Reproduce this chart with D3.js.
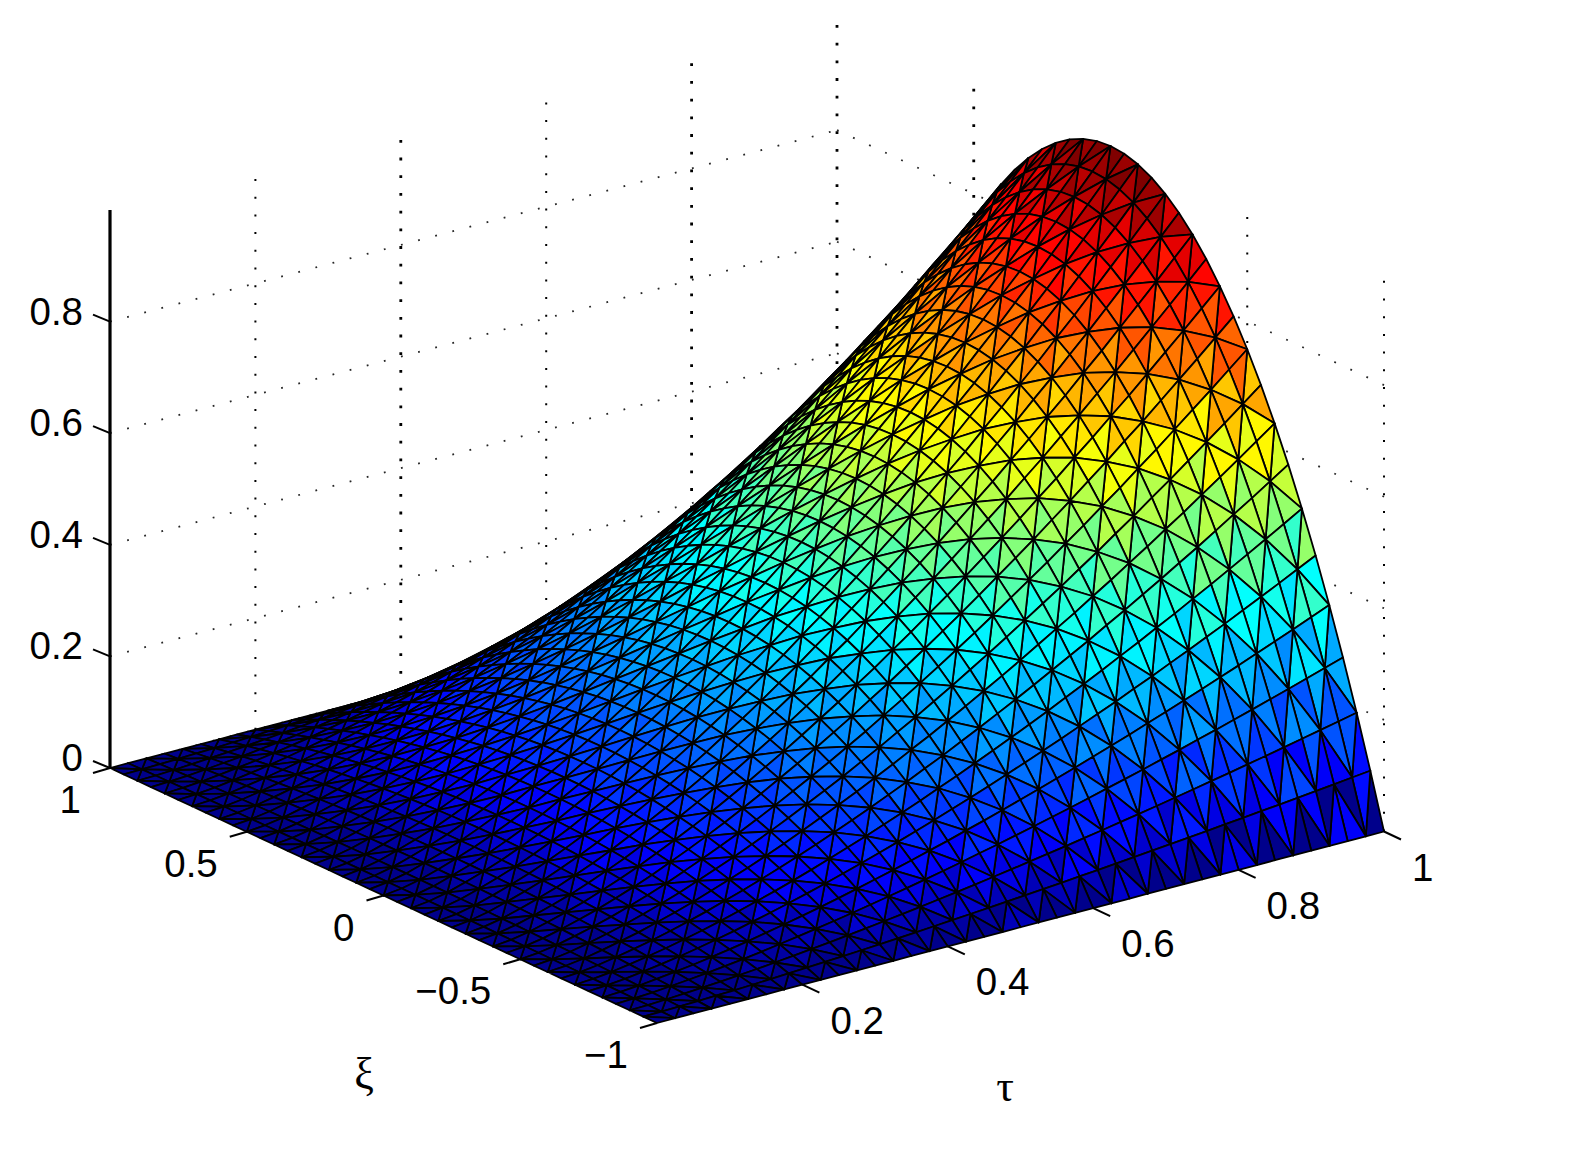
<!DOCTYPE html>
<html><head><meta charset="utf-8">
<style>html,body{margin:0;padding:0;background:#fff}svg{display:block}text{font-family:"Liberation Sans",Arial,sans-serif;fill:#000}</style>
<script src="https://cdnjs.cloudflare.com/ajax/libs/d3/7.8.5/d3.min.js"></script>
</head><body><svg id="c" width="1577" height="1164"></svg>
<script>
const tauValues=[0,.025,.05,.075,.1,.125,.15,.175,.2,.225,.25,.275,.3,.325,.35,.375,.4,.425,.45,.475,.5,.525,.55,.575,.6,.625,.65,.675,.7,.725,.75,.775,.8,.825,.85,.875,.9,.925,.95,.975,1];
const xiValues=[-1,-.95,-.9,-.85,-.8,-.75,-.7,-.65,-.6,-.55,-.5,-.45,-.4,-.35,-.3,-.25,-.2,-.15,-.1,-.05,0,.05,.1,.15,.2,.25,.3,.35,.4,.45,.5,.55,.6,.65,.7,.75,.8,.85,.9,.95,1];
const tauProfile=[0,.004,.011,.021,.032,.044,.058,.073,.089,.107,.125,.144,.164,.185,.207,.230,.253,.277,.302,.327,.354,.380,.408,.436,.465,.494,.524,.555,.586,.617,.650,.682,.716,.749,.784,.818,.854,.890,.926,.963,1];
const xiProfile=[0,.0975,.19,.2775,.36,.4375,.51,.5775,.64,.6975,.75,.7975,.84,.8775,.91,.9375,.96,.9775,.99,.9975,1,.9975,.99,.9775,.96,.9375,.91,.8775,.84,.7975,.75,.6975,.64,.5775,.51,.4375,.36,.2775,.19,.0975,0];
const zTicks=[0,.2,.4,.6,.8];
const zLabels=["0","0.2","0.4","0.6","0.8"];
const tauTicks=[.2,.4,.6,.8,1];
const tauLabels=["0.2","0.4","0.6","0.8","1"];
const xiTicks=[1,.5,0,-.5,-1];
const xiLabels=["1","0.5","0","\u22120.5","\u22121"];
const jetStops=["#000080","#0000ff","#00ffff","#ffff00","#ff0000","#800000"];
const jetDomain=[0,.09,.365,.61,.855,.99];

const svg=d3.select("#c");
const xTau=d3.scaleLinear().domain([0,1]).range([0,727]);
const yTau=d3.scaleLinear().domain([0,1]).range([0,-191.5]);
const xXi=d3.scaleLinear().domain([-1,1]).range([657,110]);
const yXi=d3.scaleLinear().domain([-1,1]).range([1023,768]);
const yZ=d3.scaleLinear().domain([0,1]).range([0,-558]);
const px=(t,k)=>xTau(t)+xXi(k);
const py=(t,k,z)=>yTau(t)+yXi(k)+yZ(z);
const ramp=d3.scaleLinear().domain(jetDomain).range(jetStops).interpolate(d3.interpolateRgb).clamp(true);
const color=d3.scaleQuantize().domain([0,1]).range(d3.range(64).map(i=>ramp((i+.5)/64)));

const grid=svg.append("g").attr("fill","none").attr("stroke","#000").attr("stroke-linecap","butt");
function dotted(a,b,w,o){grid.append("line").attr("x1",a[0]).attr("y1",a[1]).attr("x2",b[0]).attr("y2",b[1])
  .attr("stroke-width",w).attr("stroke-dasharray",w+" "+(17.7-w)).attr("opacity",o);}
const P=(t,k,z)=>[px(t,k),py(t,k,z)];
[.2,.4,.6,.8,1].forEach(t=>dotted(P(t,1,0),P(t,1,1),t==.4||t==.8||t==1?2.8:2,1));
[.5,0,-.5,-1].forEach(k=>dotted(P(1,k,0),P(1,k,1),k==.5?2.8:2,1));
zTicks.slice(1).forEach(z=>{dotted(P(0,1,z),P(1,1,z),1.8,.85);dotted(P(1,1,z),P(1,-1,z),1.8,.85);});
dotted(P(0,1,0),P(1,1,0),1.8,.85);dotted(P(1,1,0),P(1,-1,0),1.8,.85);

// surface, painted from the far corner to the near one
const n=tauValues.length,m=xiValues.length,tris=[];
const node=(i,j)=>({t:tauValues[i],k:xiValues[j],z:tauProfile[i]*xiProfile[j],i,j});
for(let i=n-2;i>=0;i--)for(let j=m-2;j>=0;j--){
  const a=node(i,j),b=node(i+1,j),c=node(i+1,j+1),d=node(i,j+1);
  const even=(i+j)%2==0;
  const pair=(j==0?!even:even)?[[a,b,c],[a,c,d]]:[[b,c,d],[b,d,a]];
  pair.forEach((v,q)=>tris.push({v,q}));
}
svg.append("g").selectAll("path").data(tris).join("path")
 .attr("d",d=>"M"+d.v.map(p=>[px(p.t,p.k).toFixed(2),py(p.t,p.k,p.z).toFixed(2)].join(",")).join("L")+"Z")
 .attr("fill",d=>{const s=d.v[(d.v[0].i*2+d.v[0].j+d.q)%3];return color(s.z);})
 .attr("stroke","#000").attr("stroke-width",1.8).attr("stroke-linejoin","round");

const ax=svg.append("g").attr("stroke","#000").attr("fill","none");
ax.append("line").attr("x1",px(0,1)).attr("y1",py(0,1,0)).attr("x2",px(0,1)).attr("y2",py(0,1,1)).attr("stroke-width",3.2);
const tk=(a,dx,dy)=>ax.append("line").attr("x1",a[0]).attr("y1",a[1]).attr("x2",a[0]+dx).attr("y2",a[1]+dy).attr("stroke-width",2);
zTicks.forEach(z=>tk(P(0,1,z),-17,-7));
xiTicks.forEach(k=>tk(P(0,k,0),-17,5));
tauTicks.forEach(t=>tk(P(t,-1,0),17,8));

const lab=svg.append("g").attr("font-size",38.5);
const text=(s,x,y,anchor="end")=>lab.append("text").attr("x",x).attr("y",y).attr("text-anchor",anchor).text(s);
zLabels.forEach((s,i)=>text(s,px(0,1)-27,py(0,1,zTicks[i])+3));
xiLabels.forEach((s,i)=>text(s,px(0,xiTicks[i],0)-29,py(0,xiTicks[i],0)+45));
tauLabels.forEach((s,i)=>text(s,px(tauTicks[i],-1,0)+28,py(tauTicks[i],-1,0)+49,"start"));
lab.append("text").attr("x",364).attr("y",1088).attr("text-anchor","middle").style("font-family","'Liberation Serif',serif").attr("font-size",44).text("\u03BE");
lab.append("text").attr("x",1005).attr("y",1101).attr("text-anchor","middle").style("font-family","'Liberation Serif',serif").attr("font-size",44).text("\u03C4");
</script></body></html>
